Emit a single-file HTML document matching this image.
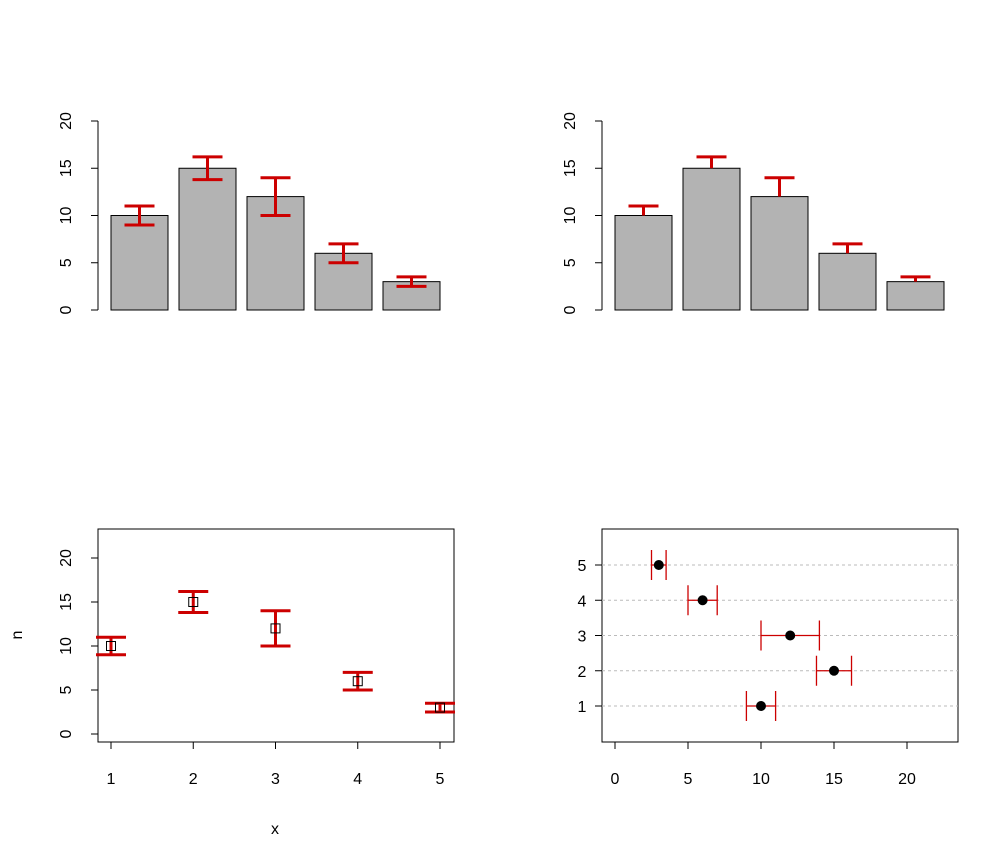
<!DOCTYPE html>
<html><head><meta charset="utf-8"><style>
body{margin:0;background:#fff;}
svg{display:block;font-family:"Liberation Sans",Arial,sans-serif;}
</style></head><body>
<svg id="s" width="1008" height="864"></svg>
<script>
const categories=[1,2,3,4,5];
const values=[10,15,12,6,3];
const lowerErr=[9,13.8,10,5,2.5];
const upperErr=[11,16.2,14,7,3.5];
const yTicks=[0,5,10,15,20];
const xTicks4=[0,5,10,15,20];
const NS="http://www.w3.org/2000/svg";
const svg=document.getElementById('s');
const RED="#cc0000";
function mk(tag,attrs,name,parent){const e=document.createElementNS(NS,tag);for(const k in attrs)e.setAttribute(k,attrs[k]);


(parent||svg).appendChild(e);return e;}
function txt(x,y,s,name,rot,anchor){const t=mk('text',{x:x,y:y,'font-size':16,'text-anchor':anchor||'middle',fill:'#000'},name);if(rot)t.setAttribute('transform','rotate(-90 '+x+' '+y+')');t.textContent=s;return t;}
function yAxis(ax,y,lo,hi,ticks,name){mk('line',{x1:ax,x2:ax,y1:y(lo),y2:y(hi),stroke:'#000'},name+'-line');
ticks.forEach(v=>{mk('line',{x1:ax-7,x2:ax,y1:y(v),y2:y(v),stroke:'#000'},name+'-tick');txt(ax-27,y(v),String(v),name+'-label',true);});}
// bar panels
function barPanel(ox,both,pname){
 const y=v=>310-v*9.45;
 const bx=i=>ox+13+i*68;
 yAxis(ox,y,0,20,yTicks,pname+'-y-axis');
 categories.forEach((c,i)=>{
  mk('rect',{x:bx(i),y:y(values[i]),width:57,height:y(0)-y(values[i]),fill:'#b3b3b3',stroke:'#000'},pname+'-bar-'+c);
  const cx=bx(i)+28.5;
  const lo=both?lowerErr[i]:values[i];
  mk('line',{x1:cx,x2:cx,y1:y(lo),y2:y(upperErr[i]),stroke:RED,'stroke-width':3},pname+'-error-bar');
  mk('line',{x1:cx-15,x2:cx+15,y1:y(upperErr[i]),y2:y(upperErr[i]),stroke:RED,'stroke-width':3},pname+'-error-cap');
  if(both)mk('line',{x1:cx-15,x2:cx+15,y1:y(lowerErr[i]),y2:y(lowerErr[i]),stroke:RED,'stroke-width':3},pname+'-error-cap');
 });
}
barPanel(98,true,'panel1');
barPanel(602,false,'panel2');
// panel 3
{
 const y=v=>734-v*8.8, x=v=>111+(v-1)*82.25;
 mk('rect',{x:98,y:529,width:356,height:213,fill:'none',stroke:'#000'},'panel3-frame');
 yAxis(98,y,0,20,yTicks,'panel3-y-axis');
 mk('line',{x1:x(1),x2:x(5),y1:742,y2:742,stroke:'#000'},'panel3-x-axis');
 categories.forEach(c=>{mk('line',{x1:x(c),x2:x(c),y1:742,y2:749,stroke:'#000'},'panel3-x-tick');txt(x(c),784,String(c),'panel3-x-label');});
 txt(275,834,'x','panel3-x-title');txt(22,635,'n','panel3-y-title',true);
 categories.forEach((c,i)=>{const cx=x(c);
  mk('line',{x1:cx,x2:cx,y1:y(lowerErr[i]),y2:y(upperErr[i]),stroke:RED,'stroke-width':3},'panel3-error-bar');
  mk('line',{x1:cx-15,x2:cx+15,y1:y(upperErr[i]),y2:y(upperErr[i]),stroke:RED,'stroke-width':3},'panel3-error-cap');
  mk('line',{x1:cx-15,x2:cx+15,y1:y(lowerErr[i]),y2:y(lowerErr[i]),stroke:RED,'stroke-width':3},'panel3-error-cap');
  mk('rect',{x:cx-4.5,y:y(values[i])-4.5,width:9,height:9,fill:'none',stroke:'#000'},'panel3-point-'+c);
 });
}
// panel 4
{
 const x=v=>615+v*14.6, y=v=>706-(v-1)*35.25;
 mk('rect',{x:602,y:529,width:356,height:213,fill:'none',stroke:'#000'},'panel4-frame');
 mk('line',{x1:x(0),x2:x(20),y1:742,y2:742,stroke:'#000'},'panel4-x-axis');
 xTicks4.forEach(v=>{mk('line',{x1:x(v),x2:x(v),y1:742,y2:749,stroke:'#000'},'panel4-x-tick');txt(x(v),784,String(v),'panel4-x-label');});
 mk('line',{x1:602,x2:602,y1:y(1),y2:y(5),stroke:'#000'},'panel4-y-axis');
 categories.forEach((c,i)=>{const cy=y(c);
  mk('line',{x1:595,x2:602,y1:cy,y2:cy,stroke:'#000'},'panel4-y-tick');
  txt(582,cy+6,String(c),'panel4-y-label');
  mk('line',{x1:602,x2:958,y1:cy,y2:cy,stroke:'#bbb','stroke-dasharray':'3,3'},'panel4-gridline');
  mk('line',{x1:x(lowerErr[i]),x2:x(upperErr[i]),y1:cy,y2:cy,stroke:RED,'stroke-width':1.3},'panel4-error-bar');
  mk('line',{x1:x(lowerErr[i]),x2:x(lowerErr[i]),y1:cy-15,y2:cy+15,stroke:RED,'stroke-width':1.3},'panel4-error-cap');
  mk('line',{x1:x(upperErr[i]),x2:x(upperErr[i]),y1:cy-15,y2:cy+15,stroke:RED,'stroke-width':1.3},'panel4-error-cap');
  mk('circle',{cx:x(values[i]),cy:cy,r:5,fill:'#000'},'panel4-point-'+c);
 });
}
</script>
</body></html>
